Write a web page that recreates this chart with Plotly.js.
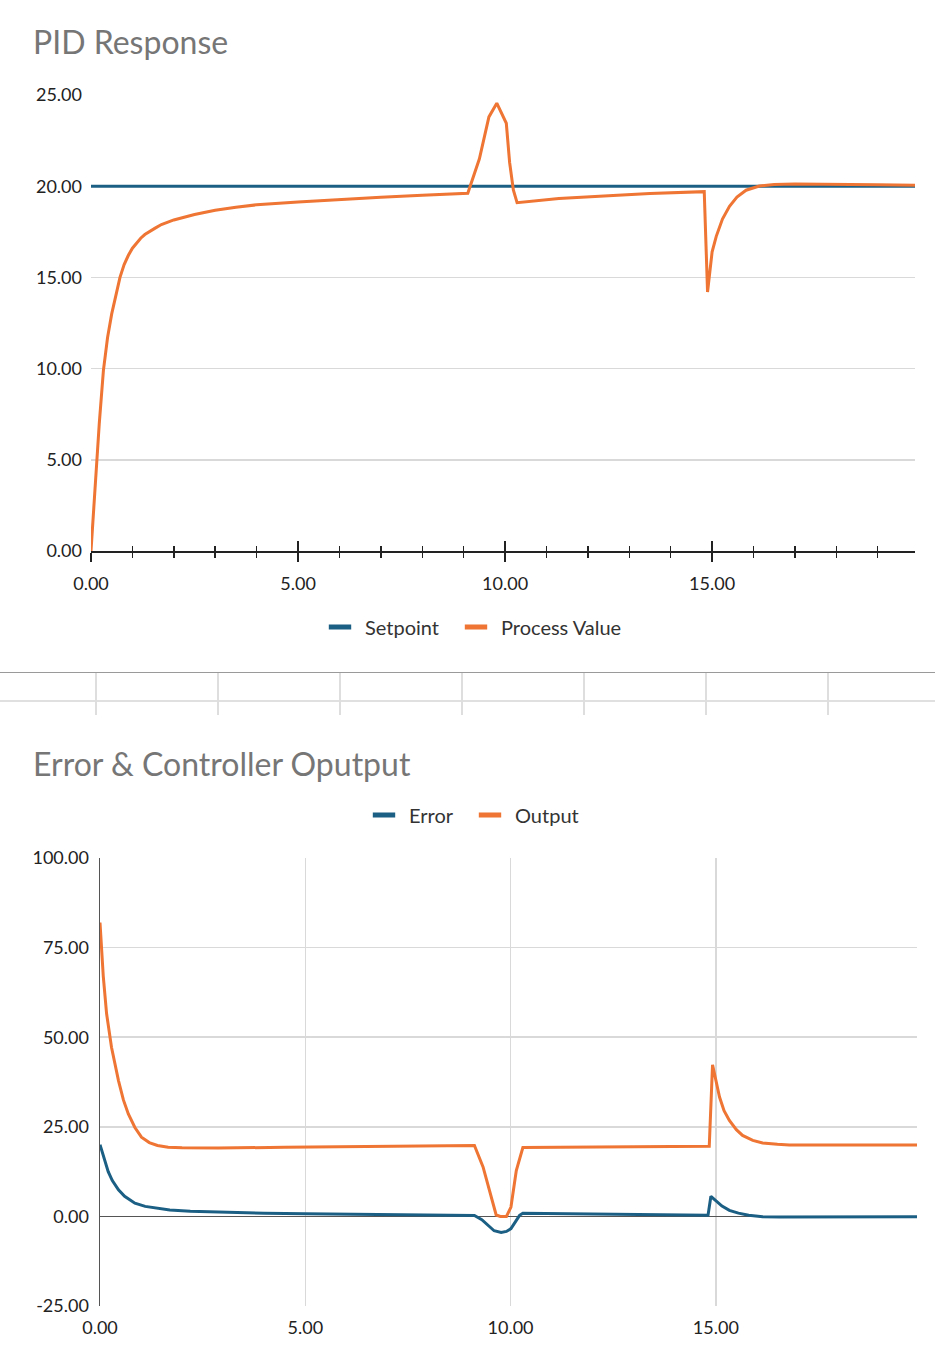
<!DOCTYPE html>
<html>
<head>
<meta charset="utf-8">
<script src="https://cdn.plot.ly/plotly-3.0.1.min.js"></script>
<style>
  body { margin: 0; background: #fff; }
  #wrap { position: relative; width: 935px; height: 1358px; overflow: hidden; }
  #pidDiv { position: absolute; left: 0; top: 0; width: 935px; height: 672px; }
  #errDiv { position: absolute; left: 0; top: 715px; width: 935px; height: 643px; }
  .hline { position: absolute; left: 0; width: 935px; }
  .vline { position: absolute; top: 673px; height: 42px; width: 2px; background: #dedede; }
</style>
</head>
<body>
<div id="wrap">
  <div id="pidDiv"></div>
  <div class="hline" style="top:672px;height:1px;background:#9a9a9a;"></div>
  <div class="hline" style="top:700px;height:2px;background:#e0e0e0;"></div>
  <div class="vline" style="left:95px"></div>
  <div class="vline" style="left:217px"></div>
  <div class="vline" style="left:339px"></div>
  <div class="vline" style="left:461px"></div>
  <div class="vline" style="left:583px"></div>
  <div class="vline" style="left:705px"></div>
  <div class="vline" style="left:827px"></div>
  <div id="errDiv"></div>
</div>
<script>
'use strict';

// values
const spTime = [0, 19.9];
const spValue = [20, 20];

const pvTime = [0.00, 0.10, 0.20, 0.30, 0.40, 0.50, 0.60, 0.70, 0.80, 0.90,
    1.00, 1.10, 1.20, 1.30, 1.40, 1.55, 1.70, 2.00, 2.50, 3.00, 3.50, 4.00, 5.00,
    6.00, 7.00, 8.00, 9.10, 9.38, 9.61, 9.80, 10.03, 10.11, 10.20,
    10.29, 11.30, 12.50, 13.50, 14.81, 14.89, 15.00, 15.10, 15.25, 15.42,
    15.60, 15.82, 16.14, 16.50, 17.00, 18.00, 19.00, 19.90];
const pvValue = [0.0, 3.6, 7.0, 9.9, 11.7, 13.0, 14.1, 15.0, 15.7, 16.2,
    16.6, 16.9, 17.15, 17.35, 17.5, 17.7, 17.9, 18.15, 18.45, 18.68, 18.85, 18.98, 19.13,
    19.27, 19.39, 19.50, 19.61, 21.5, 23.8, 24.55, 23.45, 21.3, 19.8,
    19.1, 19.33, 19.48, 19.6, 19.7, 14.2, 16.4, 17.25, 18.2, 18.9,
    19.4, 19.78, 20.01, 20.09, 20.12, 20.11, 20.08, 20.05];

const errTime = [0.00, 0.10, 0.20, 0.30, 0.45, 0.60, 0.85, 1.10, 1.40, 1.70,
    2.20, 3.00, 4.00, 5.00, 7.00, 9.12, 9.30, 9.49, 9.60, 9.77,
    9.90, 10.01, 10.12, 10.22, 10.30, 11.50, 13.00, 14.81, 14.88, 15.00,
    15.15, 15.33, 15.55, 15.80, 16.14, 16.55, 17.50, 19.90];
const errValue = [20.0, 16.0, 12.5, 10.0, 7.4, 5.6, 3.7, 2.8, 2.2, 1.8,
    1.45, 1.15, 0.9, 0.75, 0.5, 0.25, -0.9, -3.0, -4.0, -4.5,
    -4.2, -3.4, -1.3, 0.3, 0.9, 0.7, 0.5, 0.3, 5.6, 4.4,
    2.9, 1.7, 0.9, 0.3, -0.1, -0.2, -0.2, -0.1];

const outTime = [0.00, 0.08, 0.16, 0.28, 0.45, 0.57, 0.69, 0.85, 1.01, 1.20,
    1.40, 1.66, 2.00, 2.88, 4.50, 6.00, 7.50, 9.12, 9.33, 9.49,
    9.65, 9.75, 9.90, 10.01, 10.14, 10.30, 11.50, 13.00, 14.84, 14.92,
    15.09, 15.20, 15.33, 15.50, 15.65, 15.90, 16.14, 16.50, 16.79, 18.00, 19.90];
const outValue = [82, 67, 56.6, 47.2, 37.9, 32.5, 28.6, 24.8, 22.1, 20.6,
    19.8, 19.3, 19.15, 19.06, 19.3, 19.45, 19.6, 19.8, 13.8, 7.25,
    0.4, 0, 0, 2.6, 12.8, 19.2, 19.35, 19.45, 19.6, 42.3,
    33.3, 29.5, 26.8, 24.2, 22.6, 21.2, 20.5, 20.1, 19.95, 19.95, 19.95];

// bottom y ticks use a plain hyphen like the reference
const errTickVals = [-25, 0, 25, 50, 75, 100];
const errTickText = ['-25.00', '0.00', '25.00', '50.00', '75.00', '100.00'];

const blue = '#1c5f84';
const orange = '#ee7533';
const gridColor = '#d9d9d9';
const fontFam = 'Lato, "Open Sans", sans-serif';

function titleObj(txt, yPix, h){
    return {
        text: txt,
        font: {family: fontFam, size: 32, color: '#767676'},
        xref: 'container', yref: 'container',
        x: 33/935, xanchor: 'left',
        y: 1 - yPix/h, yanchor: 'middle'
    };
}

// one legend per entry so each swatch sits where the reference has it
function legendObj(xPix, yPix, h){
    return {orientation: 'h', x: xPix/935, xanchor: 'left', xref: 'container',
            y: 1 - yPix/h, yanchor: 'middle', yref: 'container',
            font: {family: fontFam, size: 20, color: '#333'},
            itemwidth: 40};
}

// short thick bar as legend swatch, the real lines stay out of the legend
function swatch(name, color, legend){
    return {x: [null], y: [null], name: name, type: 'scatter', mode: 'markers',
            legend: legend,
            marker: {symbol: 'line-ew', size: 16, line: {color: color, width: 6}}};
}

// top chart: PID response
const pidData = [
    {x: spTime, y: spValue, name: 'Setpoint', type: 'scatter', mode: 'lines',
     showlegend: false, line: {color: blue, width: 3}},
    {x: pvTime, y: pvValue, name: 'Process Value', type: 'scatter', mode: 'lines',
     showlegend: false, line: {color: orange, width: 3}},
    swatch('Setpoint', blue, 'legend'),
    swatch('Process Value', orange, 'legend2'),
    // second axis only to draw the tick marks crossing the x axis
    {x: [0], y: [0], xaxis: 'x2', showlegend: false, hoverinfo: 'skip',
     mode: 'markers', marker: {opacity: 0}}
];

const pidLayout = {
    width: 935, height: 672,
    margin: {l: 91, r: 20, t: 95, b: 121},
    paper_bgcolor: '#fff', plot_bgcolor: '#fff',
    font: {family: fontFam, size: 18, color: '#222'},
    title: titleObj('PID Response', 43, 672),
    showlegend: true,
    legend: legendObj(315, 627, 672),
    legend2: legendObj(451, 627, 672),
    xaxis: {range: [0, 19.9], dtick: 5, tickformat: '.2f',
            showgrid: false, zeroline: false,
            showline: true, linecolor: '#222', linewidth: 1.5,
            ticks: 'outside', ticklen: 9, tickwidth: 1.5, tickcolor: '#222',
            minor: {dtick: 1, ticks: 'outside', ticklen: 5, tickwidth: 1.5, tickcolor: '#222'},
            ticklabelstandoff: 7},
    xaxis2: {overlaying: 'x', matches: 'x', side: 'bottom', anchor: 'y',
             showgrid: false, zeroline: false, showticklabels: false,
             ticks: 'inside', ticklen: 10, tickwidth: 1.5, tickcolor: '#222', dtick: 5,
             minor: {dtick: 1, ticks: 'inside', ticklen: 5, tickwidth: 1.5, tickcolor: '#222'}},
    yaxis: {range: [0, 25], dtick: 5, tickformat: '.2f',
            showgrid: true, gridcolor: gridColor, gridwidth: 1.5,
            zeroline: false, showline: false, ticks: '',
            ticklabelstandoff: 8}
};

Plotly.newPlot('pidDiv', pidData, pidLayout, {staticPlot: true});

// bottom chart: error and controller output
const errData = [
    {x: errTime, y: errValue, name: 'Error', type: 'scatter', mode: 'lines',
     showlegend: false, line: {color: blue, width: 3}},
    {x: outTime, y: outValue, name: 'Output', type: 'scatter', mode: 'lines',
     showlegend: false, line: {color: orange, width: 3}},
    swatch('Error', blue, 'legend'),
    swatch('Output', orange, 'legend2')
];

const errLayout = {
    width: 935, height: 643,
    margin: {l: 100, r: 18, t: 143, b: 52},
    paper_bgcolor: '#fff', plot_bgcolor: '#fff',
    font: {family: fontFam, size: 18, color: '#222'},
    title: titleObj('Error &amp; Controller Oputput', 50, 643),
    showlegend: true,
    legend: legendObj(359, 100, 643),
    legend2: legendObj(465, 100, 643),
    xaxis: {range: [0, 19.9], dtick: 5, tickformat: '.2f',
            showgrid: true, gridcolor: gridColor, gridwidth: 1.5,
            zeroline: false, showline: false, ticks: '',
            ticklabelstandoff: 9},
    yaxis: {range: [-25, 100], tickmode: 'array',
            tickvals: errTickVals, ticktext: errTickText,
            showgrid: true, gridcolor: gridColor, gridwidth: 1.5,
            zeroline: true, zerolinecolor: '#555', zerolinewidth: 1.5,
            showline: true, linecolor: '#555', linewidth: 1.5,
            ticks: '', ticklabelstandoff: 6}
};

Plotly.newPlot('errDiv', errData, errLayout, {staticPlot: true});
</script>
</body>
</html>
